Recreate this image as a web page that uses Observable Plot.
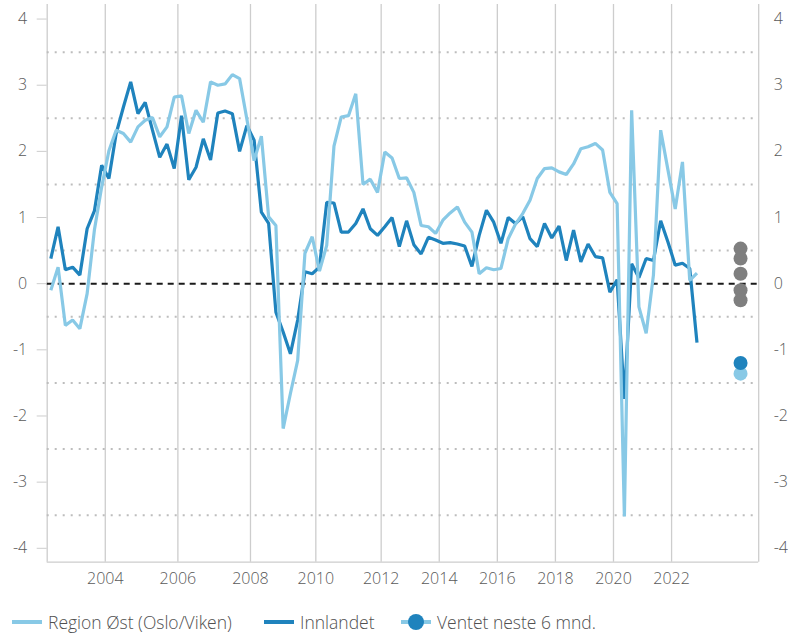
<!DOCTYPE html>
<html>
<head>
<meta charset="utf-8">
<script src="https://cdn.jsdelivr.net/npm/d3@7"></script>
<script src="https://cdn.jsdelivr.net/npm/@observablehq/plot@0.6"></script>
<style>
  html, body { margin: 0; background: #fff; font-family: "Open Sans", sans-serif; overflow: hidden; }
  #chart { position: relative; width: 788px; height: 634px; }
  #chart svg text { font-weight: 300; }
  .legend { position: absolute; top: 612px; left: 0; width: 788px; height: 20px; font-size: 17.5px; line-height: 20px; font-weight: 300; color: #505050; }
  .item { position: absolute; top: 0; height: 20px; display: flex; align-items: center; white-space: nowrap; }
  .sw { width: 30px; height: 4px; margin-right: 6px; position: relative; flex: none; }
  .sw .dot { position: absolute; left: 7px; top: -6px; width: 16px; height: 16px; border-radius: 50%; }
</style>
</head>
<body>
<div id="chart"></div>
<script>
// ---- data ----
const years = [2002,2003,2004,2005,2006,2007,2008,2009,2010,2011,2012,2013,2014,2015,2016,2017,2018,2019,2020,2021,2022];
const roundsPerYear = [3,5,5,5,5,5,5,4,5,4,4,4,4,4,4,4,4,4,4,4,4];
const labelYears = [2004,2006,2008,2010,2012,2014,2016,2018,2020,2022];
const emptySlotsAfter = 8;      // empty categories after last observation
const forecastSlotOffset = 6;   // forecast dots placed 6 categories after last observation

const regionOst = [
  -0.10, 0.25, -0.63, -0.55, -0.68, -0.15, 0.81, 1.46, 2.01, 2.32,
  2.27, 2.14, 2.37, 2.47, 2.51, 2.22, 2.37, 2.82, 2.84, 2.27,
  2.62, 2.44, 3.05, 3.00, 3.02, 3.16, 3.10, 2.49, 1.86, 2.23,
  1.01, 0.88, -2.19, -1.66, -1.16, 0.46, 0.71, 0.19, 0.58, 2.08,
  2.52, 2.54, 2.87, 1.50, 1.58, 1.38, 1.99, 1.90, 1.59, 1.60,
  1.38, 0.88, 0.86, 0.76, 0.96, 1.07, 1.16, 0.93, 0.78, 0.15,
  0.24, 0.21, 0.23, 0.68, 0.90, 1.06, 1.26, 1.59, 1.74, 1.75,
  1.69, 1.65, 1.81, 2.04, 2.07, 2.12, 2.02, 1.38, 1.21, -3.52,
  2.62, -0.35, -0.75, 0.13, 2.32, 1.72, 1.13, 1.84, 0.05, 0.16
];
const innlandet = [
  0.38, 0.86, 0.21, 0.25, 0.13, 0.83, 1.10, 1.79, 1.59, 2.27,
  2.67, 3.05, 2.57, 2.74, 2.32, 1.91, 2.11, 1.74, 2.54, 1.57,
  1.76, 2.19, 1.87, 2.58, 2.61, 2.57, 2.00, 2.39, 2.17, 1.08,
  0.91, -0.43, -0.73, -1.06, -0.55, 0.18, 0.15, 0.25, 1.23, 1.22,
  0.78, 0.78, 0.91, 1.13, 0.83, 0.73, 0.86, 1.00, 0.56, 0.95,
  0.59, 0.45, 0.70, 0.66, 0.61, 0.62, 0.60, 0.57, 0.26, 0.73,
  1.11, 0.93, 0.61, 1.00, 0.91, 1.01, 0.68, 0.56, 0.91, 0.69,
  0.87, 0.35, 0.81, 0.33, 0.60, 0.41, 0.39, -0.13, 0.06, -1.74,
  0.30, 0.09, 0.38, 0.35, 0.95, 0.63, 0.28, 0.31, 0.23, -0.89
];
const forecastOthers = [0.53, 0.38, 0.15, -0.10, -0.25];
const forecastOst = -1.36;
const forecastInnlandet = -1.20;

const yTicks = [-4,-3,-2,-1,0,1,2,3,4];
const halfLines = [-3.5,-2.5,-1.5,-0.5,0.5,1.5,2.5,3.5];

// ---- colours ----
const cLight = "#88c9e6";
const cDark = "#1f83bd";
const cGrey = "#7f7f7f";
const cGrid = "#cdcdcd";

// ---- derived ----
const yearStart = new Map();
let acc = 0;
years.forEach((y, k) => { yearStart.set(y, acc); acc += roundsPerYear[k]; });
const nObs = acc;
const nSlots = nObs + emptySlotsAfter;
const forecastX = nObs - 1 + forecastSlotOffset;
const gridPos = labelYears.map(y => yearStart.get(y) - 0.5);
const labelOf = new Map(labelYears.map(y => [yearStart.get(y) - 0.5, String(y)]));

const ostData = regionOst.map((v, i) => ({i, v}));
const innData = innlandet.map((v, i) => ({i, v}));
const dots = [
  ...forecastOthers.map(v => ({x: forecastX, v, c: cGrey})),
  {x: forecastX, v: forecastOst, c: cLight},
  {x: forecastX, v: forecastInnlandet, c: cDark}
];

const xDomain = [-0.5, nSlots - 0.5];
const yDomain = [-4.21, 4.22];
const H = 602;

const plot = Plot.plot({
  width: 788,
  height: H,
  marginLeft: 46.7,
  marginRight: 29.8,
  marginTop: 4,
  marginBottom: H - 561.7,
  x: {domain: xDomain, axis: null},
  y: {domain: yDomain, axis: null},
  style: {fontFamily: "'Open Sans', sans-serif", fontSize: "16px", background: "#fff", overflow: "visible"},
  marks: [
    Plot.ruleX(gridPos, {stroke: cGrid, strokeWidth: 1.3}),
    Plot.ruleX(xDomain, {stroke: cGrid, strokeWidth: 1.3}),
    Plot.ruleY([yDomain[0]], {stroke: cGrid, strokeWidth: 1.3}),
    Plot.ruleY(halfLines, {stroke: "#bdbdbd", strokeWidth: 2, strokeDasharray: "2,6"}),
    Plot.ruleY([0], {stroke: "#1a1a1a", strokeWidth: 2, strokeDasharray: "6,5"}),
    Plot.lineY(innData, {x: "i", y: "v", stroke: cDark, strokeWidth: 3.2, strokeLinejoin: "miter", strokeLinecap: "butt"}),
    Plot.lineY(ostData, {x: "i", y: "v", stroke: cLight, strokeWidth: 3.2, strokeLinejoin: "miter", strokeLinecap: "butt"}),
    Plot.dot(dots, {x: "x", y: "v", r: 7, fill: "c", stroke: null}),
    Plot.axisY({anchor: "left", label: null, ticks: yTicks, tickSize: 10, tickPadding: 10, stroke: cGrid, fill: "#595959", tickFormat: d => String(d)}),
    Plot.axisY({anchor: "right", label: null, ticks: yTicks, tickSize: 0, tickPadding: 15, fill: "#595959", tickFormat: d => String(d)}),
    Plot.axisX({label: null, ticks: gridPos, tickSize: 0, tickPadding: 10, fill: "#595959", tickFormat: d => labelOf.get(d)})
  ]
});

const chart = document.getElementById("chart");
chart.appendChild(plot);

const legend = document.createElement("div");
legend.className = "legend";
legend.innerHTML = `
  <div class="item" style="left:12px"><span class="sw" style="background:${cLight}"></span>Region Øst (Oslo/Viken)</div>
  <div class="item" style="left:264px"><span class="sw" style="background:${cDark}"></span>Innlandet</div>
  <div class="item" style="left:401px"><span class="sw" style="background:${cLight}"><span class="dot" style="background:${cDark}"></span></span>Ventet neste 6 mnd.</div>
`;
chart.appendChild(legend);
</script>
</body>
</html>
